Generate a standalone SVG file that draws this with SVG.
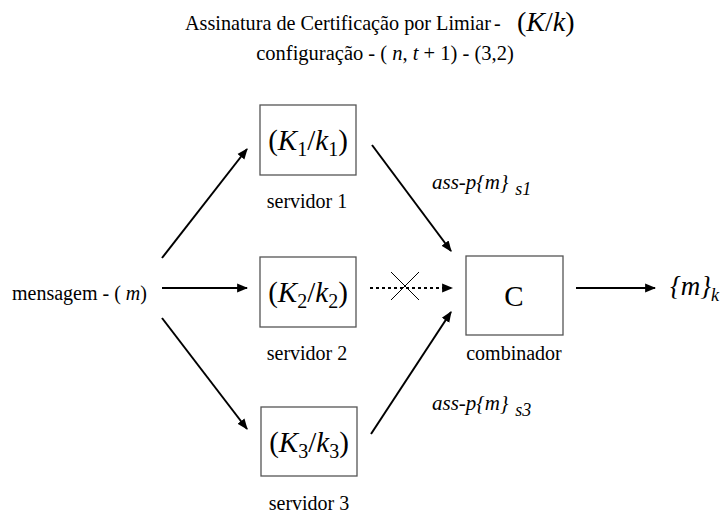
<svg xmlns="http://www.w3.org/2000/svg" width="725" height="515" viewBox="0 0 725 515" font-family="'Liberation Serif', 'Times New Roman', serif">
<style>
text{font-family:'Liberation Serif','Times New Roman',serif;fill:#000}
.t{font-size:20px}
.big{font-size:29px}
.box{fill:#fff;stroke:#555;stroke-width:1.3}
.ln{stroke:#000;stroke-width:2;fill:none}
.it{font-style:italic}
</style>
<defs>
<marker id="ah" viewBox="0 0 10 10" refX="9" refY="5" markerWidth="5.5" markerHeight="5.5" orient="auto" markerUnits="strokeWidth">
<path d="M0,1 L10,5 L0,9 z" fill="#000"/>
</marker>
</defs>
<g id="title">
<text x="185" y="30" font-size="20.2" font-family="'Liberation Serif', serif">Assinatura de Certificação por Limiar</text>
<text x="494" y="30" font-size="20" font-family="'Liberation Serif', serif">-</text>
<text x="517" y="31" font-size="28" font-family="'Liberation Serif', serif">(<tspan class="it">K</tspan>/<tspan class="it">k</tspan>)</text>
<text x="385" y="60" text-anchor="middle" font-size="20.5" font-family="'Liberation Serif', serif">configuração - ( <tspan class="it">n</tspan>, <tspan class="it">t</tspan> + 1) - (3,2)</text>
</g>
<g id="mensagem">
<text x="12" y="300" class="t" font-family="'Liberation Serif', serif">mensagem - ( <tspan class="it">m</tspan>)</text>
</g>
<g id="servidor1">
<rect class="box" x="260" y="105" width="96" height="70"/>
<text x="308" y="150" text-anchor="middle" class="big" font-family="'Liberation Serif', serif">(<tspan class="it">K</tspan><tspan font-size="20" dy="6">1</tspan><tspan dy="-6">/</tspan><tspan class="it">k</tspan><tspan font-size="20" dy="6">1</tspan><tspan dy="-6">)</tspan></text>
<text x="307" y="208" text-anchor="middle" class="t" font-family="'Liberation Serif', serif">servidor 1</text>
</g>
<g id="servidor2">
<rect class="box" x="260" y="257" width="96" height="70"/>
<text x="308" y="302" text-anchor="middle" class="big" font-family="'Liberation Serif', serif">(<tspan class="it">K</tspan><tspan font-size="20" dy="6">2</tspan><tspan dy="-6">/</tspan><tspan class="it">k</tspan><tspan font-size="20" dy="6">2</tspan><tspan dy="-6">)</tspan></text>
<text x="307" y="360" text-anchor="middle" class="t" font-family="'Liberation Serif', serif">servidor 2</text>
</g>
<g id="servidor3">
<rect class="box" x="261" y="407" width="96" height="69"/>
<text x="309" y="452" text-anchor="middle" class="big" font-family="'Liberation Serif', serif">(<tspan class="it">K</tspan><tspan font-size="20" dy="6">3</tspan><tspan dy="-6">/</tspan><tspan class="it">k</tspan><tspan font-size="20" dy="6">3</tspan><tspan dy="-6">)</tspan></text>
<text x="309" y="510" text-anchor="middle" class="t" font-family="'Liberation Serif', serif">servidor 3</text>
</g>
<g id="combinador">
<rect class="box" x="466" y="256" width="97" height="79"/>
<text x="514" y="306" text-anchor="middle" class="big" font-family="'Liberation Serif', serif">C</text>
<text x="514" y="360" text-anchor="middle" class="t" font-family="'Liberation Serif', serif">combinador</text>
</g>
<g id="saida">
<text x="670" y="295" class="it" font-size="27" font-family="'Liberation Serif', serif">{m}<tspan font-size="18" dy="6">k</tspan></text>
</g>
<g id="connectors">
<line class="ln" x1="162" y1="258" x2="247" y2="149" marker-end="url(#ah)"/>
<line class="ln" x1="162" y1="288" x2="247" y2="288" marker-end="url(#ah)"/>
<line class="ln" x1="162" y1="318" x2="247" y2="429" marker-end="url(#ah)"/>
<line class="ln" x1="372" y1="145" x2="451" y2="251" marker-end="url(#ah)"/>
<line class="ln" x1="371" y1="434" x2="451" y2="312" marker-end="url(#ah)"/>
<line class="ln" x1="370" y1="288" x2="452" y2="288" stroke-dasharray="3,3" marker-end="url(#ah)"/>
<line stroke="#000" stroke-width="1" x1="391" y1="272" x2="419" y2="300"/>
<line stroke="#000" stroke-width="1" x1="391" y1="300" x2="419" y2="272"/>
<line class="ln" x1="576" y1="288" x2="655" y2="288" marker-end="url(#ah)"/>
<text x="432" y="189" font-size="21" class="it" font-family="'Liberation Serif', serif">ass-p{m}<tspan dx="7" dy="6" font-size="18">s1</tspan></text>
<text x="432" y="410" font-size="21" class="it" font-family="'Liberation Serif', serif">ass-p{m}<tspan dx="7" dy="6" font-size="18">s3</tspan></text>
</g>
</svg>
